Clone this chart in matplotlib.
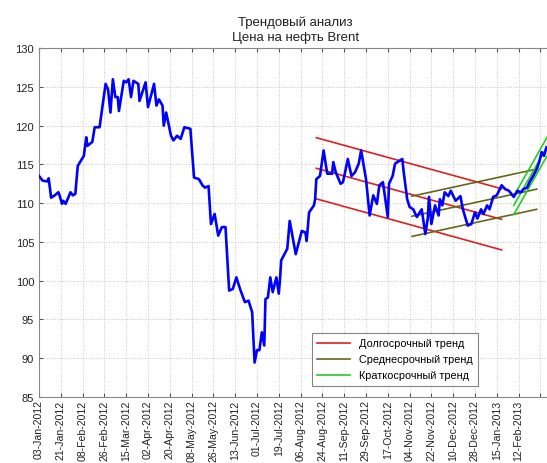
import matplotlib
matplotlib.use('Agg')
import matplotlib.pyplot as plt
import numpy as np

plt.rcParams['font.family'] = ['Liberation Sans', 'DejaVu Sans']

# Brent price, day offset from 03-Jan-2012 and price in USD
days = [0, 3, 7, 8, 10, 13, 16, 17, 19, 20, 22, 26, 28, 30, 32, 37, 39, 40, 44, 46,
        50, 55, 57, 59, 61, 63, 65, 66, 70, 72, 74, 76, 78, 82, 83, 88, 90, 95, 97, 99,
        102, 103, 105, 109, 111, 114, 117, 120, 125, 128, 132, 135, 137, 140, 142, 145, 148, 151, 154, 157,
        160, 163, 166, 170, 173, 176, 178, 180, 182, 184, 186, 187, 189, 191, 193, 196, 198, 199, 200, 205,
        207, 212, 217, 220, 221, 223, 227, 228, 229, 232, 235, 238, 242, 243, 245, 249, 251, 255, 258, 261,
        264, 266, 270, 273, 276, 279, 281, 284, 288, 289, 292, 294, 298, 300, 301, 304, 306, 309, 312, 316,
        319, 321, 322, 324, 327, 330, 331, 333, 335, 338, 340, 344, 348, 350, 354, 357, 360, 362, 365, 367,
        370, 372, 375, 378, 382, 385, 388, 392, 395, 398, 400, 403, 405, 408, 411, 413, 415, 417, 419]
price = [113.5, 112.9, 112.8, 113.2, 110.7, 111.0, 111.4, 111.0, 109.9, 110.3, 109.9, 111.4, 111.0, 111.2, 114.8, 116.1, 118.5, 117.4, 117.9, 119.8,
         119.8, 125.4, 124.7, 121.7, 126.0, 123.7, 123.7, 121.9, 125.8, 125.6, 126.0, 123.7, 125.8, 125.4, 123.2, 125.6, 122.4, 125.4, 122.6, 123.4,
         122.6, 120.0, 121.7, 118.7, 118.1, 118.7, 118.3, 119.8, 119.6, 113.3, 113.1, 112.3, 112.0, 112.2, 107.3, 108.6, 105.8, 106.9, 106.9, 98.7,
         98.9, 100.4, 98.9, 97.2, 97.4, 95.9, 89.4, 91.0, 91.0, 93.3, 91.6, 97.6, 97.8, 100.4, 98.5, 100.4, 98.3, 100.2, 102.6, 104.1,
         107.7, 103.4, 106.4, 106.2, 105.1, 108.8, 109.7, 110.5, 113.1, 113.5, 116.8, 113.8, 113.8, 115.3, 114.0, 112.5, 112.7, 115.7, 113.5, 114.0,
         115.1, 116.8, 113.1, 108.4, 111.0, 109.9, 112.3, 112.7, 108.2, 112.5, 113.5, 115.1, 115.5, 115.7, 114.2, 110.5, 109.5, 109.2, 108.2, 109.2,
         106.0, 108.0, 110.8, 107.3, 109.7, 108.4, 110.5, 109.7, 111.4, 110.9, 111.6, 110.3, 110.9, 109.2, 107.1, 107.3, 108.8, 108.0, 109.2, 108.6,
         109.7, 109.2, 110.8, 111.0, 112.3, 111.8, 111.6, 110.8, 111.6, 111.4, 111.8, 112.0, 112.7, 113.5, 114.4, 115.3, 116.6, 116.1, 117.2]

tick_days = list(range(0, 415, 18))
tick_labels = ['03-Jan-2012', '21-Jan-2012', '08-Feb-2012', '26-Feb-2012', '15-Mar-2012',
               '02-Apr-2012', '20-Apr-2012', '08-May-2012', '26-May-2012', '13-Jun-2012',
               '01-Jul-2012', '19-Jul-2012', '06-Aug-2012', '24-Aug-2012', '11-Sep-2012',
               '29-Sep-2012', '17-Oct-2012', '04-Nov-2012', '22-Nov-2012', '10-Dec-2012',
               '28-Dec-2012', '15-Jan-2013', '12-Feb-2013', '']

# trend channels: start/end day, centre line start/end value, half width
long_days = [229, 382]
long_mid = [114.5, 107.9]
long_half = 3.95
mid_days = [308, 411]
mid_mid = [108.3, 111.8]
mid_half = 2.6
short_days = [392, 430]
short_mid = [109.7, 120.2]
short_half = 1.2

fig = plt.figure(figsize=(5.47, 4.64), dpi=100)
ax = fig.add_axes([39 / 547, 1 - 397.6 / 464, 513.5 / 547, 348.3 / 464])

ax.plot(days, price, color='#0000ff', lw=1.9, zorder=5)

trend_colors = ['#dd2020', '#666619', '#22cc22']
trend_names = ['Долгосрочный тренд', 'Среднесрочный тренд', 'Краткосрочный тренд']
channels = [(long_days, long_mid, long_half), (mid_days, mid_mid, mid_half),
            (short_days, short_mid, short_half)]
for (xd, ym, hw), col, name in zip(channels, trend_colors, trend_names):
    ym = np.array(ym)
    ax.plot(xd, ym, color=col, lw=1.2, zorder=4, label=name)
    ax.plot(xd, ym + hw, color=col, lw=1.2, zorder=4)
    ax.plot(xd, ym - hw, color=col, lw=1.2, zorder=4)

ax.set_xlim(0, 424)
ax.set_ylim(85, 130)
ax.set_yticks(range(85, 131, 5))
ax.set_xticks(tick_days)
ax.set_xticklabels(tick_labels, rotation=90, fontsize=7.6)
ax.tick_params(axis='y', labelsize=8)
ax.tick_params(axis='x', pad=2)
ax.tick_params(direction='in', length=3, color='#555555', top=True, right=True,
               labelcolor='#222222')
for s in ax.spines.values():
    s.set_color('#888888')
    s.set_linewidth(0.8)
ax.grid(True, linestyle=':', color='#c4c4c4', linewidth=0.7)

ax.set_title('Трендовый анализ\nЦена на нефть Brent', fontsize=9.5, color='#222222',
             linespacing=1.35, pad=6)

leg = ax.legend(loc='upper left', bbox_to_anchor=(312 / 547, 1 - 334 / 464),
                bbox_transform=fig.transFigure, fontsize=7.8, frameon=True,
                fancybox=False, borderaxespad=0, handlelength=3.0,
                labelspacing=0.55, borderpad=0.5)
leg.get_frame().set_edgecolor('#666666')
leg.get_frame().set_linewidth(0.8)

plt.savefig('out.png', dpi=100)
